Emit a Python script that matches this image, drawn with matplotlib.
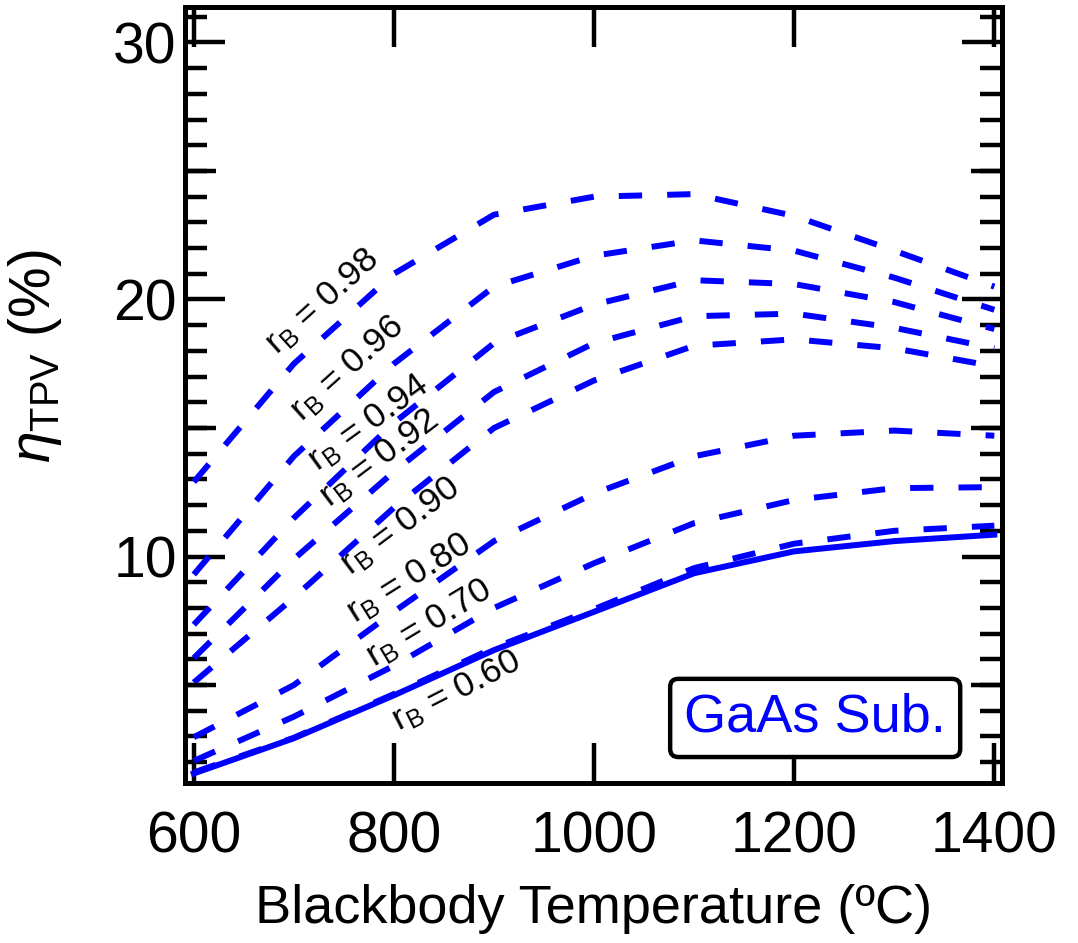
import numpy as np
import matplotlib.pyplot as plt
from matplotlib.ticker import MultipleLocator, FixedLocator

plt.rcParams['font.family'] = ['Liberation Sans', 'DejaVu Sans']
plt.rcParams['mathtext.fontset'] = 'custom'
plt.rcParams['mathtext.rm'] = 'Liberation Sans'
plt.rcParams['mathtext.it'] = 'Liberation Sans:italic'

# blackbody temperature (C)
temps = [600, 700, 800, 900, 1000, 1100, 1200, 1300, 1400]

# TPV efficiency (%) for each back reflectivity r_B
r_labels = ['0.98', '0.96', '0.94', '0.92', '0.90', '0.80', '0.70', '0.60']
eff_098 = [12.9, 17.5, 21.0, 23.3, 24.0, 24.1, 23.25, 21.9, 20.5]
eff_096 = [9.3, 13.9, 17.5, 20.5, 21.7, 22.3, 21.9, 20.85, 19.6]
eff_094 = [7.35, 11.5, 15.2, 18.3, 19.8, 20.75, 20.6, 19.9, 18.85]
eff_092 = [6.05, 9.9, 13.3, 16.4, 18.3, 19.35, 19.45, 18.9, 18.1]
eff_090 = [5.1, 8.4, 11.9, 15.0, 16.85, 18.2, 18.45, 18.1, 17.4]
eff_080 = [2.97, 5.0, 7.85, 10.6, 12.45, 13.9, 14.7, 14.9, 14.7]
eff_070 = [2.05, 3.77, 5.75, 8.0, 9.74, 11.3, 12.2, 12.66, 12.7]
eff_060 = [1.6, 2.95, 4.65, 6.45, 7.95, 9.55, 10.5, 11.0, 11.2]
eff_solid = [1.56, 2.93, 4.6, 6.36, 7.85, 9.35, 10.2, 10.6, 10.85]

# label anchor (temperature, efficiency) and angle
label_x = [729, 754, 775, 785, 807, 815, 835, 862]
label_y = [19.9, 17.3, 15.2, 13.8, 11.15, 9.15, 7.4, 4.75]
label_rot = [42, 42, 36, 37, 37, 32, 31, 27]

blue = '#0000FF'
xlim = (591.2, 1407.7)
ylim = (1.19, 31.38)

fig = plt.figure(figsize=(10.78, 9.43), dpi=100)
ax = fig.add_axes([0.1716, 0.1697, 0.7579, 0.8229])

series = [eff_098, eff_096, eff_094, eff_092, eff_090, eff_080, eff_070, eff_060]
for eff in series:
    line, = ax.plot(temps, eff, color=blue, lw=4.3)
    line.set_dashes((3.9, 4.2))
    line.set_dash_capstyle('butt')
ax.plot(temps, eff_solid, color=blue, lw=4.3)

for lab, lx, ly, rot in zip(r_labels, label_x, label_y, label_rot):
    ax.text(lx, ly, r'r$_\mathrm{B}$ = ' + lab, fontsize=25.5, rotation=rot,
            ha='center', va='center', rotation_mode='anchor')

ax.text(1221, 3.72, 'GaAs Sub.', color=blue, fontsize=39, ha='center', va='center',
        bbox=dict(boxstyle='round,pad=0.26,rounding_size=0.15', fc='white', ec='black', lw=3.2))

ax.set_xlim(*xlim)
ax.set_ylim(*ylim)

ax.xaxis.set_major_locator(FixedLocator([600, 800, 1000, 1200, 1400]))
ax.yaxis.set_major_locator(FixedLocator([10, 20, 30]))
ax.yaxis.set_minor_locator(MultipleLocator(1))
ax.tick_params(which='both', direction='in', top=True, right=True, width=3.2)
ax.tick_params(which='major', length=29, labelsize=41)
ax.tick_params(axis='x', which='major', pad=20)
ax.tick_params(axis='y', which='major', pad=6)
ax.tick_params(which='minor', length=16)
for s in ax.spines.values():
    s.set_linewidth(3.6)

# medium ticks every 5 on an overlay axes
ax5 = fig.add_axes(ax.get_position(), frameon=False)
ax5.set_xlim(*xlim)
ax5.set_ylim(*ylim)
ax5.set_yticks([5, 15, 25])
ax5.set_xticks([])
ax5.tick_params(axis='y', direction='in', left=True, right=True, length=22, width=3.2,
                labelleft=False, labelright=False)
ax5.patch.set_visible(False)

ax.set_xlabel('Blackbody Temperature (ºC)', fontsize=39, labelpad=14)
ax.set_ylabel(r'$\eta_\mathrm{TPV}$ (%)', fontsize=41)
ax.yaxis.set_label_coords(-0.148, 0.55)

plt.savefig('out.png', dpi=100)
